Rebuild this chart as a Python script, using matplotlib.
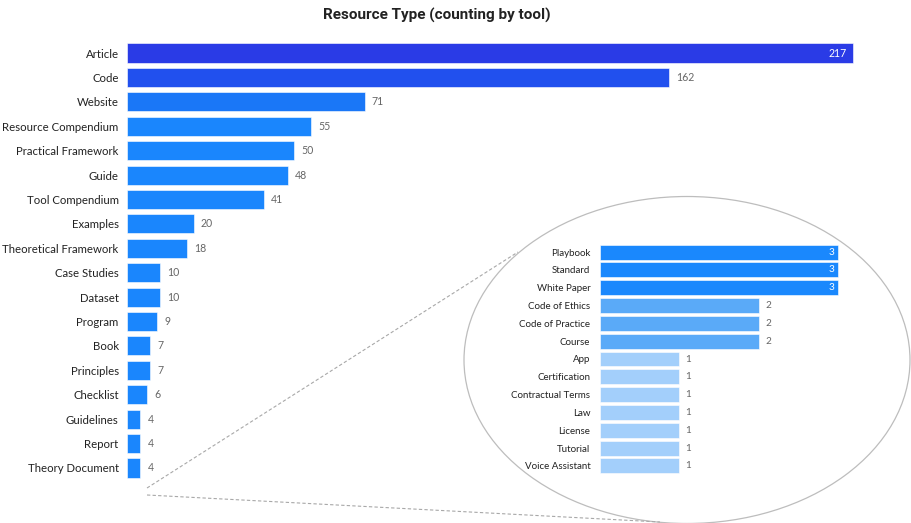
import matplotlib.pyplot as plt
from matplotlib.patches import Ellipse
import numpy as np

W, H = 911, 523

main_labels = ["Article", "Code", "Website", "Resource Compendium", "Practical Framework",
               "Guide", "Tool Compendium", "Examples", "Theoretical Framework",
               "Case Studies", "Dataset", "Program", "Book", "Principles", "Checklist",
               "Guidelines", "Report", "Theory Document"]
main_values = [217, 162, 71, 55, 50, 48, 41, 20, 18, 10, 10, 9, 7, 7, 6, 4, 4, 4]

inset_labels = ["Playbook", "Standard", "White Paper", "Code of Ethics", "Code of Practice",
                "Course", "App", "Certification", "Contractual Terms", "Law", "License",
                "Tutorial", "Voice Assistant"]
inset_values = [3, 3, 3, 2, 2, 2, 1, 1, 1, 1, 1, 1, 1]

main_colors = ["#2A3BE6", "#2150EE", "#1A77F7"] + ["#1A86FD"] * 15
inset_colors = {3: "#1A88FD", 2: "#5AAAF8", 1: "#A3CFFB"}

FONT = ["Lato", "DejaVu Sans"]


def px_rect(x0, y0, x1, y1):
    # pixel box (top-left origin) -> figure fraction rect
    return [x0 / W, 1 - y1 / H, (x1 - x0) / W, (y1 - y0) / H]


fig = plt.figure(figsize=(W / 100, H / 100), dpi=100)

# ellipse and dashed connectors on a background axes in pixel coords
bg = fig.add_axes([0, 0, 1, 1])
bg.set_xlim(0, W)
bg.set_ylim(H, 0)
bg.axis("off")
bg.add_patch(Ellipse((687, 360), 446, 327, fill=False, edgecolor="#BDBDBD", lw=0.9))
bg.plot([147, 518], [488, 252], ls=(0, (3, 2)), color="#A8A8A8", lw=0.8)
bg.plot([147, 660], [495, 522], ls=(0, (3, 2)), color="#A8A8A8", lw=0.8)

# main chart
scale = (853 - 127) / 217
ax = fig.add_axes(px_rect(127, 40.8, 911, 480.2))
ax.patch.set_alpha(0)
y = np.arange(len(main_labels))
ax.barh(y, main_values, height=0.78, color=main_colors, edgecolor="white", linewidth=0.4)
ax.set_xlim(0, (911 - 127) / scale)
ax.set_ylim(len(main_labels) - 0.5, -0.5)
ax.set_yticks(y)
ax.set_yticklabels(main_labels, fontsize=8.2, family=FONT, color="#222222")
ax.tick_params(axis="y", length=0, pad=6)
ax.set_xticks([])
for s in ax.spines.values():
    s.set_visible(False)
for i, v in enumerate(main_values):
    if i == 0:
        ax.text(v - 1.8, i, str(v), ha="right", va="center", color="white",
                fontsize=7.6, family=FONT)
    else:
        ax.text(v + 2.1, i, str(v), ha="left", va="center", color="#666666",
                fontsize=7.6, family=FONT)

# inset chart
iscale = (838 - 600) / 3
ix = fig.add_axes(px_rect(600, 243.1, 600 + 3.6 * iscale, 474.9))
ix.patch.set_alpha(0)
iy = np.arange(len(inset_labels))
ix.barh(iy, inset_values, height=0.84, color=[inset_colors[v] for v in inset_values],
        edgecolor="white", linewidth=0.4)
ix.set_xlim(0, 3.6)
ix.set_ylim(len(inset_labels) - 0.5, -0.5)
ix.set_yticks(iy)
ix.set_yticklabels(inset_labels, fontsize=7.0, family=FONT, color="#222222")
ix.tick_params(axis="y", length=0, pad=7)
ix.set_xticks([])
for s in ix.spines.values():
    s.set_visible(False)
for i, v in enumerate(inset_values):
    if v == 3:
        ix.text(v - 0.05, i, str(v), ha="right", va="center", color="white",
                fontsize=7.2, family=FONT)
    else:
        ix.text(v + 0.08, i, str(v), ha="left", va="center", color="#666666",
                fontsize=7.2, family=FONT)

fig.text(437 / W, 1 - 15 / H, "Resource Type (counting by tool)", ha="center", va="center",
         fontsize=11, family=["Roboto", "DejaVu Sans"], fontweight="bold", color="#222222")

fig.savefig("out.png", dpi=100)
